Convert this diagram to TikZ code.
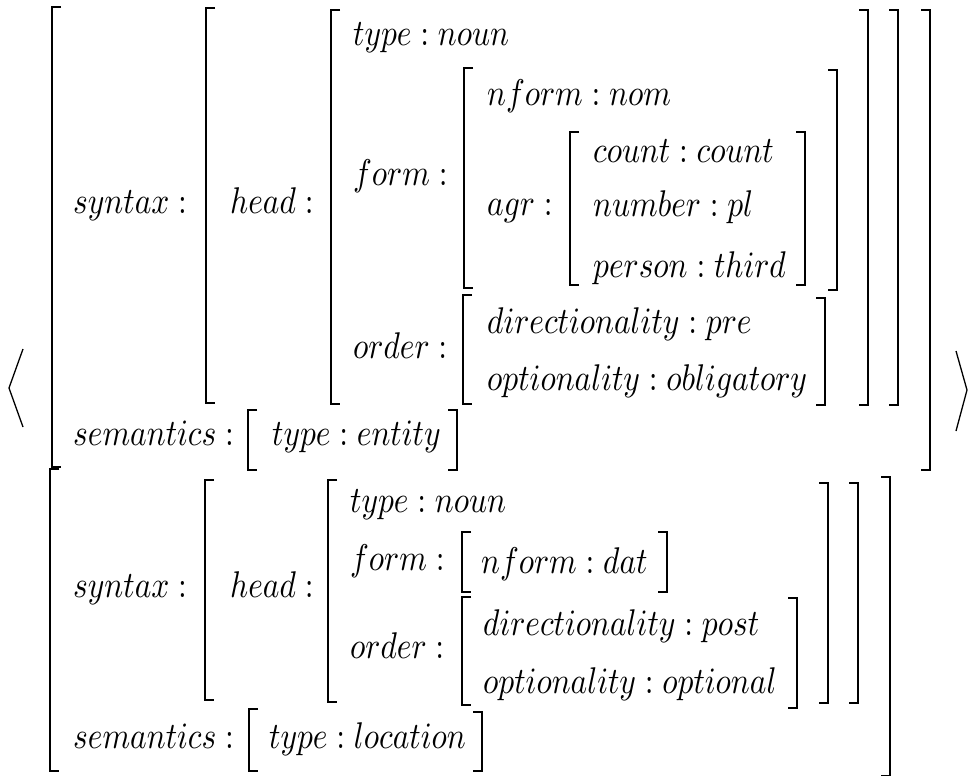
\documentclass[tikz,border=0pt]{standalone}
\usepackage{graphicx}
\DeclareFontShape{OML}{cmm}{m}{it}{<->cmmi10}{}
\DeclareFontShape{OT1}{cmr}{m}{n}{<->cmr10}{}
\DeclareFontShape{OMS}{cmsy}{m}{n}{<->cmsy10}{}
\newcommand{\av}[1]{\scalebox{1}[1.18]{$#1$}}
\begin{document}
\begin{tikzpicture}[x=1pt,y=-1pt,
  lbl/.style={inner sep=0pt,anchor=base west,font=\fontsize{31.5}{38}\selectfont},
  brk/.style={line width=1.5pt,line cap=butt},
  ang/.style={line width=1.3pt,line join=miter}]
\useasboundingbox (0,0) rectangle (969,776);
% left bracket: x, top, bottom
\newcommand{\lbr}[3]{\draw[brk] (#1+9,#2) -- (#1,#2) -- (#1,#3) -- (#1+9,#3);}
\newcommand{\rbr}[3]{\draw[brk] (#1-9,#2) -- (#1,#2) -- (#1,#3) -- (#1-9,#3);}
% angle brackets
\draw[ang] (23,349) -- (9,388) -- (23,427);
\draw[ang] (956,351) -- (967,390) -- (956,431);
% ---------- first AVM ----------
\lbr{52}{7}{467} \rbr{930}{10}{470}
\lbr{206}{8}{403} \rbr{898}{10}{405}
\lbr{331}{10}{404} \rbr{868}{10}{405}
\lbr{464}{68}{288} \rbr{837}{70}{290}
\lbr{570}{132}{285} \rbr{805}{132}{285}
\lbr{463}{295}{404} \rbr{825}{298}{405}
\lbr{248}{410}{470} \rbr{457}{410}{470}
\node[lbl] (syn1) at (73,213) {\av{syntax:}};
\node[lbl] (head1) at (230,213) {\av{head:}};
\node[lbl] (type1) at (353,46) {\av{type:noun}};
\node[lbl] (form1) at (353,185) {\av{form:}};
\node[lbl] (ord1) at (353,358) {\av{order:}};
\node[lbl] (nform1) at (487,105) {\av{nform:nom}};
\node[lbl] (agr) at (487,215) {\av{agr:}};
\node[lbl] (count) at (593,162) {\av{count:count}};
\node[lbl] (number) at (593,216) {\av{number:pl}};
\node[lbl] (person) at (593,277) {\av{person:third}};
\node[lbl] (dir1) at (487,333) {\av{directionality:pre}};
\node[lbl] (opt1) at (487,390) {\av{optionality:obligatory}};
\node[lbl] (sem1) at (73,445) {\av{semantics:}};
\node[lbl] (ent) at (272,445) {\av{type:entity}};
% ---------- second AVM ----------
\lbr{50}{469}{771} \rbr{890}{477}{776}
\lbr{205}{480}{700} \rbr{858}{483}{703}
\lbr{328}{480}{702} \rbr{828}{483}{703}
\lbr{462}{532}{592} \rbr{667}{532}{592}
\lbr{462}{597}{705} \rbr{797}{598}{708}
\lbr{249}{709}{771} \rbr{482}{712}{771}
\node[lbl] (syn2) at (73,597) {\av{syntax:}};
\node[lbl] (head2) at (230,597) {\av{head:}};
\node[lbl] (type2) at (350,512) {\av{type:noun}};
\node[lbl] (form2) at (350,570) {\av{form:}};
\node[lbl] (nform2) at (481,573) {\av{nform:dat}};
\node[lbl] (ord2) at (350,658) {\av{order:}};
\node[lbl] (dir2) at (483,635) {\av{directionality:post}};
\node[lbl] (opt2) at (483,693) {\av{optionality:optional}};
\node[lbl] (sem2) at (73,748) {\av{semantics:}};
\node[lbl] (loc) at (269,748) {\av{type:location}};
\end{tikzpicture}
\end{document}
